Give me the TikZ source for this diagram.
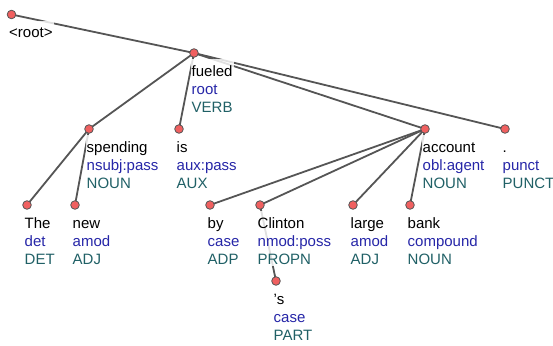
\documentclass[tikz,border=0pt]{standalone}
\usepackage{fontspec}
\setmainfont{Liberation Sans}
\usetikzlibrary{calc}
\definecolor{dblue}{RGB}{38,38,168}
\definecolor{dteal}{RGB}{32,96,102}
\definecolor{edgegrey}{RGB}{85,85,85}
\definecolor{dotred}{RGB}{240,96,96}
\tikzset{
  edge/.style={draw=edgegrey, line width=1.8pt},
  tokdot/.style={circle, fill=dotred, draw=edgegrey, line width=0.8pt, minimum size=8.6pt, inner sep=0pt},
  lbl/.style={anchor=north west, align=left, fill=white, fill opacity=0.82, text opacity=1,
    inner xsep=1pt, inner ysep=2pt, font=\fontsize{15}{18}\selectfont}
}
\newcommand\tokenlabel[4]{%
  \node[lbl] (#1L) at ($(#1)+(-3.5,6)$) {\rule{0pt}{15pt}#2\\\textcolor{dblue}{#3}\\\textcolor{dteal}{#4}};}
\begin{document}
\begin{tikzpicture}[x=1pt,y=-1pt]
\useasboundingbox (0,0) rectangle (553,345);
% positions
\coordinate (root) at (11.5,14.5);
\coordinate (fueled) at (194,53);
\coordinate (spending) at (89,129);
\coordinate (is) at (179,129);
\coordinate (account) at (425,129);
\coordinate (punct) at (505,129);
\coordinate (The) at (27,205);
\coordinate (new) at (75,205);
\coordinate (by) at (210,205);
\coordinate (Clinton) at (260,205);
\coordinate (large) at (353,205);
\coordinate (bank) at (410,205);
\coordinate (s) at (276,281);
% edges
\draw[edge] (root) -- (fueled);
\draw[edge] (fueled) -- (spending);
\draw[edge] (fueled) -- (is);
\draw[edge] (fueled) -- (account);
\draw[edge] (fueled) -- (punct);
\draw[edge] (spending) -- (The);
\draw[edge] (spending) -- (new);
\draw[edge] (account) -- (by);
\draw[edge] (account) -- (Clinton);
\draw[edge] (account) -- (large);
\draw[edge] (account) -- (bank);
\draw[edge] (Clinton) -- (s);
% labels
\node[lbl] (rootL) at ($(root)+(-3.5,6)$) {\rule{0pt}{15pt}<root>};
\tokenlabel{fueled}{fueled}{root}{VERB}
\tokenlabel{spending}{spending}{nsubj:pass}{NOUN}
\tokenlabel{is}{is}{aux:pass}{AUX}
\tokenlabel{account}{account}{obl:agent}{NOUN}
\tokenlabel{punct}{.}{punct}{PUNCT}
\tokenlabel{The}{The}{det}{DET}
\tokenlabel{new}{new}{amod}{ADJ}
\tokenlabel{by}{by}{case}{ADP}
\tokenlabel{Clinton}{Clinton}{nmod:poss}{PROPN}
\tokenlabel{large}{large}{amod}{ADJ}
\tokenlabel{bank}{bank}{compound}{NOUN}
\tokenlabel{s}{'s}{case}{PART}
% dots
\foreach \n in {root,fueled,spending,is,account,punct,The,new,by,Clinton,large,bank,s}
  \node[tokdot] (\n D) at (\n) {};
\end{tikzpicture}
\end{document}
